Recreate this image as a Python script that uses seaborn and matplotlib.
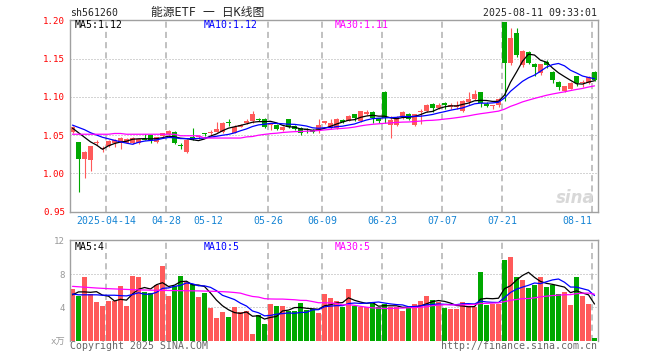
import numpy as np
import pandas as pd
import matplotlib
matplotlib.use("Agg")
import matplotlib.pyplot as plt
import seaborn as sns

# daily bars: index 0 = 2025-04-03 ... index 87 = 2025-08-11
opens = [
    1.054, 1.041, 1.019, 1.017, 1.039, 1.031, 1.036, 1.039, 1.040, 1.040,
    1.039, 1.039, 1.045, 1.050, 1.041, 1.049, 1.051, 1.054, 1.036, 1.027,
    1.048, 1.047, 1.052, 1.053, 1.054, 1.054, 1.067, 1.053, 1.061, 1.066,
    1.069, 1.071, 1.071, 1.063, 1.063, 1.057, 1.071, 1.062, 1.059, 1.058,
    1.057, 1.055, 1.066, 1.059, 1.059, 1.070, 1.069, 1.077, 1.068, 1.078,
    1.080, 1.072, 1.107, 1.063, 1.063, 1.075, 1.078, 1.063, 1.080, 1.081,
    1.091, 1.085, 1.092, 1.087, 1.087, 1.081, 1.094, 1.097, 1.107, 1.091,
    1.088, 1.089, 1.199, 1.145, 1.184, 1.142, 1.159, 1.144, 1.131, 1.146,
    1.133, 1.120, 1.108, 1.111, 1.127, 1.119, 1.118, 1.133]
highs = [
    1.062, 1.041, 1.029, 1.036, 1.043, 1.035, 1.043, 1.045, 1.047, 1.046,
    1.047, 1.046, 1.051, 1.050, 1.048, 1.053, 1.057, 1.055, 1.039, 1.045,
    1.059, 1.050, 1.053, 1.057, 1.067, 1.067, 1.071, 1.063, 1.064, 1.071,
    1.081, 1.073, 1.072, 1.066, 1.064, 1.062, 1.071, 1.063, 1.060, 1.059,
    1.058, 1.071, 1.069, 1.071, 1.073, 1.071, 1.076, 1.077, 1.082, 1.083,
    1.081, 1.073, 1.108, 1.075, 1.075, 1.081, 1.079, 1.078, 1.084, 1.091,
    1.092, 1.092, 1.093, 1.092, 1.095, 1.096, 1.107, 1.109, 1.107, 1.094,
    1.090, 1.099, 1.199, 1.191, 1.191, 1.162, 1.160, 1.145, 1.144, 1.149,
    1.134, 1.121, 1.115, 1.120, 1.128, 1.122, 1.127, 1.134]
lows = [
    1.053, 0.975, 0.993, 1.002, 1.037, 1.027, 1.034, 1.034, 1.032, 1.039,
    1.038, 1.038, 1.043, 1.040, 1.040, 1.048, 1.050, 1.038, 1.032, 1.026,
    1.044, 1.045, 1.049, 1.049, 1.054, 1.053, 1.062, 1.052, 1.060, 1.065,
    1.066, 1.068, 1.059, 1.057, 1.057, 1.055, 1.059, 1.057, 1.050, 1.052,
    1.053, 1.053, 1.065, 1.058, 1.058, 1.066, 1.068, 1.069, 1.067, 1.076,
    1.066, 1.066, 1.066, 1.046, 1.062, 1.071, 1.070, 1.062, 1.064, 1.080,
    1.080, 1.084, 1.084, 1.084, 1.084, 1.080, 1.090, 1.096, 1.087, 1.087,
    1.084, 1.087, 1.095, 1.142, 1.153, 1.139, 1.143, 1.128, 1.129, 1.138,
    1.118, 1.109, 1.107, 1.110, 1.114, 1.113, 1.117, 1.121]
closes = [
    1.061, 1.019, 1.028, 1.036, 1.040, 1.033, 1.042, 1.043, 1.046, 1.045,
    1.046, 1.045, 1.044, 1.044, 1.047, 1.052, 1.055, 1.040, 1.035, 1.044,
    1.045, 1.049, 1.051, 1.054, 1.058, 1.066, 1.066, 1.060, 1.063, 1.068,
    1.077, 1.070, 1.060, 1.065, 1.058, 1.061, 1.060, 1.058, 1.053, 1.056,
    1.054, 1.063, 1.068, 1.066, 1.071, 1.067, 1.075, 1.072, 1.081, 1.080,
    1.072, 1.069, 1.072, 1.070, 1.074, 1.080, 1.071, 1.077, 1.082, 1.090,
    1.085, 1.089, 1.089, 1.089, 1.089, 1.095, 1.098, 1.104, 1.092, 1.088,
    1.089, 1.098, 1.145, 1.177, 1.155, 1.160, 1.145, 1.139, 1.143, 1.142,
    1.122, 1.113, 1.114, 1.119, 1.119, 1.120, 1.126, 1.123]
# volume in units of 10k (万)
volumes = [
    6.2, 5.4, 7.6, 5.6, 4.6, 4.1, 4.8, 4.7, 6.6, 4.1,
    7.8, 7.6, 5.8, 5.7, 6.7, 9.0, 5.3, 6.6, 7.8, 7.0,
    6.8, 5.2, 5.7, 3.9, 2.7, 3.4, 2.8, 4.0, 3.4, 3.6,
    0.8, 3.1, 2.0, 4.4, 4.2, 4.1, 3.6, 3.5, 4.5, 3.7,
    3.8, 3.3, 5.6, 5.1, 4.8, 4.0, 6.2, 4.1, 4.05, 4.0,
    4.5, 4.0, 4.4, 4.0, 4.0, 3.6, 4.0, 4.4, 4.8, 5.3,
    4.9, 4.65, 3.9, 3.8, 3.8, 4.65, 4.15, 4.0, 8.3, 4.25,
    4.45, 4.45, 9.75, 10.05, 7.65, 7.25, 6.35, 6.7, 7.6, 6.5,
    6.65, 5.55, 5.85, 4.25, 7.6, 5.35, 4.45, 0.3]

# moving-average values before a full window exists (history is off-chart)
price_ma5_head = [1.059, 1.053, 1.047, 1.041]
price_ma10_head = [1.063, 1.060, 1.057, 1.053, 1.050, 1.047, 1.045, 1.043, 1.041]
price_ma30_head = [1.051, 1.051, 1.051, 1.051, 1.051, 1.051, 1.051, 1.052, 1.052, 1.051,
                   1.051, 1.051, 1.051, 1.051, 1.051, 1.051, 1.051, 1.051, 1.049, 1.049,
                   1.049, 1.049, 1.046, 1.046, 1.046, 1.046, 1.046, 1.046, 1.046]
vol_ma5_head = [5.5, 5.85, 5.85, 5.8]
vol_ma10_head = [5.6, 5.5, 5.5, 5.5, 5.5, 5.45, 5.45, 5.45, 5.4]
vol_ma30_head = [6.52, 6.47, 6.42, 6.37, 6.32, 6.28, 6.24, 6.21, 6.18, 6.15,
                 6.12, 6.10, 6.08, 6.06, 6.04, 6.03, 6.02, 6.01, 6.00, 5.99,
                 5.98, 5.97, 5.95, 5.93, 5.91, 5.88, 5.84, 5.78, 5.70]

tick_idx = [6, 16, 23, 33, 42, 52, 62, 72, 87]
tick_labels = ['2025-04-14', '04-28', '05-12', '05-26', '06-09',
               '06-23', '07-07', '07-21', '08-11']
grid_idx = [6, 16, 33, 42, 52, 62, 72, 87]

UP, DOWN = '#ff5a5a', '#00a800'
GRID, EDGE = '#aaaaaa', '#a0a0a0'

sns.set_style("white")
plt.rcParams['font.family'] = ['DejaVu Sans Mono', 'Noto Sans CJK SC']
plt.rcParams['axes.unicode_minus'] = False

df = pd.DataFrame({'open': opens, 'high': highs, 'low': lows,
                   'close': closes, 'volume': volumes})
df['idx'] = np.arange(len(df))
df['color'] = np.where(df['close'] >= df['open'], UP, DOWN)


def moving_average(values, n, head):
    ma = pd.Series(values, dtype=float).rolling(n).mean()
    ma.iloc[:n - 1] = head
    return ma


W, H = 660, 360
fig = plt.figure(figsize=(6.6, 3.6), dpi=100)


def px_axes(left, top, right, bottom):
    return fig.add_axes([left / W, 1 - bottom / H, (right - left) / W, (bottom - top) / H])


def px_text(x, y, s, **kw):
    fig.text(x / W, 1 - y / H, s, va='center', **kw)


ax = px_axes(70, 20, 597.5, 212)
axv = px_axes(70, 240, 597.5, 340.5)
xlim = (-2.5 / 6, 87.5)

# ---- price panel ----
body_low = np.minimum(df['open'], df['close'])
body_h = np.maximum(np.abs(df['close'] - df['open']), 0.0013)
ax.vlines(df['idx'], df['low'], df['high'], colors=df['color'], lw=0.8, zorder=2)
ax.bar(df['idx'], body_h, bottom=body_low, width=0.83, color=df['color'], lw=0, zorder=2.1)

ma_styles = [(5, 'black'), (10, '#0000ff'), (30, '#ff00ff')]
price_heads = {5: price_ma5_head, 10: price_ma10_head, 30: price_ma30_head}
vol_heads = {5: vol_ma5_head, 10: vol_ma10_head, 30: vol_ma30_head}
price_ma, vol_ma = {}, {}
for n, col in ma_styles:
    price_ma[n] = moving_average(closes, n, price_heads[n])
    sns.lineplot(x=df['idx'], y=price_ma[n], color=col, linewidth=0.9,
                 errorbar=None, sort=False, ax=ax, zorder=3)

for v in [1.00, 1.05, 1.10, 1.15]:
    ax.axhline(v, color=GRID, lw=0.72, ls=(0, (1, 2)), zorder=0.5)

# ---- volume panel ----
axv.bar(df['idx'], df['volume'], width=0.83, color=df['color'], lw=0, zorder=2)
for n, col in ma_styles:
    vol_ma[n] = moving_average(volumes, n, vol_heads[n])
    sns.lineplot(x=df['idx'], y=vol_ma[n], color=col, linewidth=0.9,
                 errorbar=None, sort=False, ax=axv, zorder=3)
for v in [4, 8]:
    axv.axhline(v, color=GRID, lw=0.72, ls=(0, (1, 2)), zorder=0.5)

# ---- shared styling ----
for a in (ax, axv):
    a.set_xlim(*xlim)
    a.set_xlabel('')
    a.set_ylabel('')
    for i in grid_idx:
        a.axvline(i - 0.35, color='#b0b0b0', lw=1.1, ls=(0, (4, 2.7)), zorder=0.5)
    for s in a.spines.values():
        s.set_color(EDGE)
        s.set_linewidth(1.0)
    a.tick_params(length=0)

ax.set_ylim(0.9487, 1.2013)
ax.set_yticks([0.95, 1.00, 1.05, 1.10, 1.15, 1.20])
ax.set_yticklabels([f'{v:.2f}' for v in [0.95, 1.00, 1.05, 1.10, 1.15, 1.20]],
                   color='#ff0000', fontsize=6.6)
ax.tick_params(axis='y', pad=3.6)
ax.set_xticks([i - 0.35 for i in tick_idx])
ax.set_xticklabels(tick_labels, color='#1584d4', fontsize=7.1)
ax.tick_params(axis='x', pad=3)
ax.get_xticklabels()[-1].set_ha('right')

axv.set_ylim(0, 12.1)
axv.set_yticks([0, 4, 8, 12])
axv.set_yticklabels(['x万', '4', '8', '12'], color='#999999', fontsize=6.6)
axv.tick_params(axis='y', pad=3.6)
axv.set_xticks([])
axv.spines['bottom'].set_visible(False)

# ---- texts ----
fs = 7.1
px_text(70, 12.5, 'sh561260', ha='left', fontsize=fs)
px_text(207.5, 12.5, '能源ETF 一 日K线图', ha='center', fontsize=8.5)
px_text(597, 12.5, '2025-08-11 09:33:01', ha='right', fontsize=fs)

px_text(75, 25.5, f'MA5:{price_ma[5].iloc[-1]:.2f}', ha='left', fontsize=fs, color='black')
px_text(204, 25.5, f'MA10:{price_ma[10].iloc[-1]:.2f}', ha='left', fontsize=fs, color='#0000ff')
px_text(335, 25.5, f'MA30:{price_ma[30].iloc[-1]:.2f}', ha='left', fontsize=fs, color='#ff00ff')

px_text(75, 246.5, f'MA5:{int(vol_ma[5].iloc[-1])}', ha='left', fontsize=fs, color='black')
px_text(204, 246.5, f'MA10:{int(vol_ma[10].iloc[-1])}', ha='left', fontsize=fs, color='#0000ff')
px_text(335, 246.5, f'MA30:{int(vol_ma[30].iloc[-1])}', ha='left', fontsize=fs, color='#ff00ff')

px_text(70, 346, 'Copyright 2025 SINA.COM', ha='left', fontsize=fs, color='#666666')
px_text(597, 346, 'http://finance.sina.com.cn', ha='right', fontsize=fs, color='#666666')

px_text(595, 198, 'sina', ha='right', fontsize=12, color='#d8d8d8',
        family='DejaVu Sans', fontweight='bold', fontstyle='italic')

fig.savefig('out.png', dpi=100)
